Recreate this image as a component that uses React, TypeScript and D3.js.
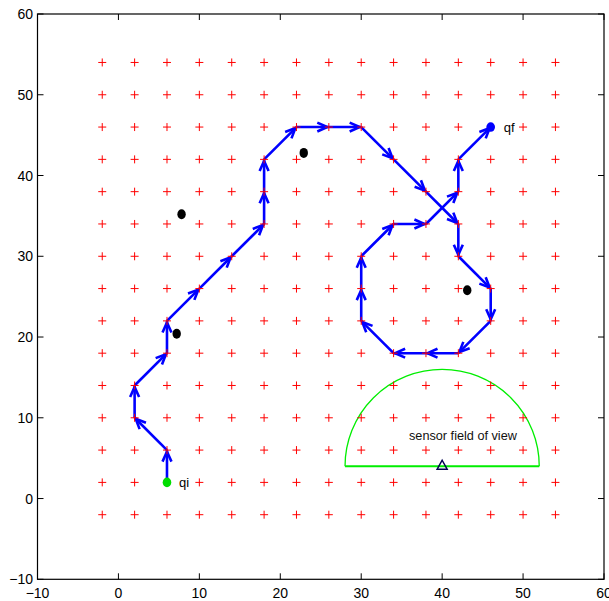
import React from "react";
import * as d3 from "d3";

const W = 609;
const H = 601;

const tickValues = [-10, 0, 10, 20, 30, 40, 50, 60];
const tickLabels = ["\u221210", "0", "10", "20", "30", "40", "50", "60"];

const gridXs = [-2, 2, 6, 10, 14, 18, 22, 26, 30, 34, 38, 42, 46, 50, 54];
const gridYs = [-2, 2, 6, 10, 14, 18, 22, 26, 30, 34, 38, 42, 46, 50, 54];

const pathX = [6, 6, 2, 2, 6, 6, 10, 14, 18, 18, 18, 22, 26, 30, 34, 38, 42, 42, 46, 46, 42, 38, 34, 30, 30, 30, 34, 38, 42, 42, 46];
const pathY = [2, 6, 10, 14, 18, 22, 26, 30, 34, 38, 42, 46, 46, 46, 42, 38, 34, 30, 26, 22, 18, 18, 18, 22, 26, 30, 34, 34, 38, 42, 46];

const obstacleX = [7.8, 7.2, 22.9, 43.1];
const obstacleY = [35.2, 20.4, 42.8, 25.8];

const startPt = [6, 2];
const goalPt = [46, 46];
const sensorCenter = [40, 4];
const sensorRadius = 12;

export default function App() {
  const x = d3.scaleLinear().domain([-10, 60]).range([37.5, 604]);
  const y = d3.scaleLinear().domain([-10, 60]).range([579.3, 14]);
  const font = "'Liberation Sans', Arial, Helvetica, sans-serif";
  const tickLen = 6;

  const [x0, x1] = x.range();
  const [y0, y1] = y.range();

  const segs: JSX.Element[] = [];
  for (let i = 0; i < pathX.length - 1; i++) {
    const ax = x(pathX[i]), ay = y(pathY[i]);
    const bx = x(pathX[i + 1]), by = y(pathY[i + 1]);
    const ang = Math.atan2(by - ay, bx - ax);
    const tx = bx - Math.cos(ang) * 1.5, ty = by - Math.sin(ang) * 1.5;
    const hl = 11, spread = 0.42;
    const l1x = tx - hl * Math.cos(ang - spread), l1y = ty - hl * Math.sin(ang - spread);
    const l2x = tx - hl * Math.cos(ang + spread), l2y = ty - hl * Math.sin(ang + spread);
    segs.push(
      <g key={"s" + i}>
        <line x1={ax} y1={ay} x2={bx} y2={by} stroke="#0000ff" strokeWidth={2.6} />
        <path d={`M${l1x},${l1y}L${tx},${ty}L${l2x},${l2y}`} fill="none" stroke="#0000ff" strokeWidth={2.6} strokeLinejoin="miter" />
      </g>
    );
  }

  const cx = x(sensorCenter[0]), cy = y(sensorCenter[1]);
  const rx = x(sensorCenter[0] + sensorRadius) - cx;
  const ry = cy - y(sensorCenter[1] + sensorRadius);
  const arcD = `M${cx - rx},${cy} A${rx},${ry} 0 0 1 ${cx + rx},${cy}`;

  const tri = { x: x(sensorCenter[0]), y: y(sensorCenter[1]) - 1 };

  return (
    <svg width={W} height={H} style={{ position: "absolute", left: 0, top: 0, background: "#fff" }} fontFamily={font}>
      <rect x={0} y={0} width={W} height={H} fill="#fff" />
      {/* axis box */}
      <rect x={x0} y={y1} width={x1 - x0} height={y0 - y1} fill="none" stroke="#000" strokeWidth={1.2} />
      {tickValues.map((v, i) => (
        <g key={"t" + i}>
          <line x1={x(v)} x2={x(v)} y1={y0} y2={y0 - tickLen} stroke="#000" />
          <line x1={x(v)} x2={x(v)} y1={y1} y2={y1 + tickLen} stroke="#000" />
          <line x1={x0} x2={x0 + tickLen} y1={y(v)} y2={y(v)} stroke="#000" />
          <line x1={x1} x2={x1 - tickLen} y1={y(v)} y2={y(v)} stroke="#000" />
          <text x={x(v)} y={y0 + 19} fontSize={14} textAnchor="middle" fill="#000">{tickLabels[i]}</text>
          <text x={33} y={y(v) + 5} fontSize={14} textAnchor="end" fill="#000">{tickLabels[i]}</text>
        </g>
      ))}

      {/* sensor field of view */}
      <path d={arcD} fill="none" stroke="#00ee00" strokeWidth={1.3} />
      <line x1={cx - rx} x2={cx + rx} y1={cy} y2={cy} stroke="#00ee00" strokeWidth={2} />
      <text x={409} y={440} fontSize={12.7} fill="#111">sensor field of view</text>

      {/* path */}
      {segs}

      {/* grid markers */}
      {gridXs.map((gx) =>
        gridYs.map((gy) => (
          <path key={`g${gx}_${gy}`} d={`M${x(gx) - 4},${y(gy)}h8M${x(gx)},${y(gy) - 4}v8`} stroke="#ff0000" strokeWidth={1} fill="none" />
        ))
      )}

      {/* obstacles */}
      {obstacleX.map((ox, i) => (
        <ellipse key={"o" + i} cx={x(ox)} cy={y(obstacleY[i])} rx={4.2} ry={5} fill="#000" />
      ))}

      {/* start & goal */}
      <ellipse cx={x(startPt[0])} cy={y(startPt[1])} rx={4.3} ry={4.8} fill="#00dd00" />
      <ellipse cx={x(goalPt[0])} cy={y(goalPt[1])} rx={4.3} ry={4.8} fill="#0000ff" />
      <text x={x(startPt[0]) + 12} y={y(startPt[1]) + 5} fontSize={13} fill="#000">qi</text>
      <text x={x(goalPt[0]) + 13} y={y(goalPt[1]) + 5} fontSize={13} fill="#000">qf</text>

      {/* sensor triangle */}
      <path d={`M${tri.x},${tri.y - 5}L${tri.x + 5},${tri.y + 4}L${tri.x - 5},${tri.y + 4}Z`} fill="none" stroke="#000050" strokeWidth={1.5} />
    </svg>
  );
}
